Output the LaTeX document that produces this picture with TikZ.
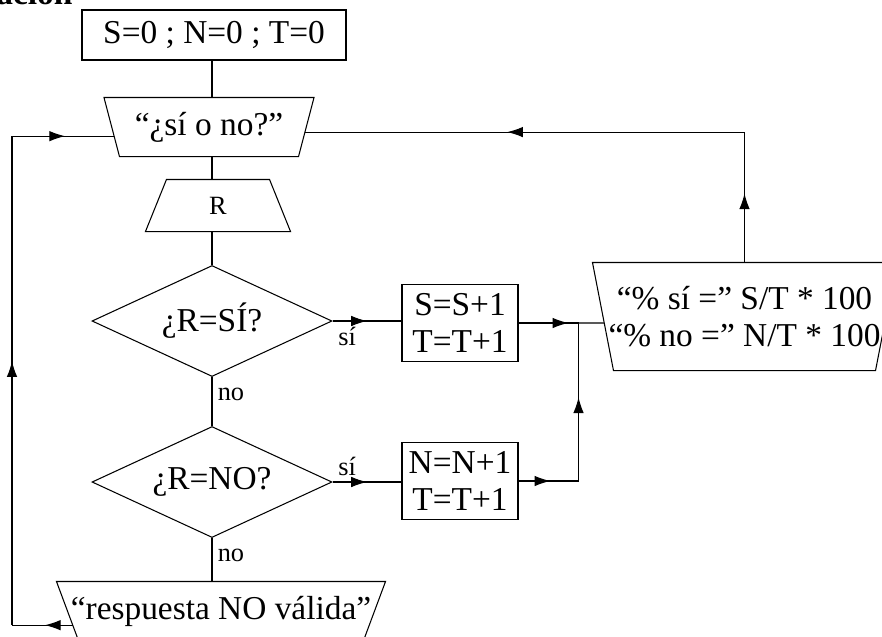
\documentclass[tikz,border=0pt]{standalone}
\usepackage{fontspec}
\setmainfont{Liberation Serif}
\usetikzlibrary{shapes.geometric,arrows.meta,decorations.markings,calc}

\tikzset{
  flecha/.style={postaction={decorate},
    decoration={markings, mark=at position #1 with {\arrow{Latex[length=9pt,width=6pt]}}}},
  proceso/.style={draw, rectangle, align=center, inner sep=0pt,
    minimum width=2.32cm, minimum height=1.54cm},
  decision/.style={draw, diamond, aspect=2.16, inner sep=0pt,
    minimum width=4.8cm, minimum height=2.22cm},
  caja/.style={rectangle, align=center, inner sep=0pt},
  etiq/.style={font=\fontsize{15}{17}\selectfont, inner sep=3pt}
}

% borde de salida (ancho arriba) y de entrada (ancho abajo)
\newcommand{\bordesalida}[2]{%
  \draw (#1.north west) -- (#1.north east) -- ([xshift=-#2]#1.south east)
    -- ([xshift=#2]#1.south west) -- cycle;}
\newcommand{\bordeentrada}[2]{%
  \draw ([xshift=#2]#1.north west) -- ([xshift=-#2]#1.north east)
    -- (#1.south east) -- (#1.south west) -- cycle;}

\begin{document}
\begin{tikzpicture}[line width=0.6pt, font=\fontsize{19}{20.8}\selectfont]
  \useasboundingbox (0,0) rectangle (17.64,-12.72);
  \node[anchor=base east, inner sep=0pt, font=\fontsize{19}{20.8}\selectfont\bfseries] (titulo) at (1.46,-0.09) {ación};

  % columna principal
  \node[proceso, minimum width=5.28cm, minimum height=1cm] (ini) at (4.28,-0.70) {S=0 ; N=0 ; T=0};
  \node[caja, minimum width=4.18cm, minimum height=1.16cm] (preg) at (4.18,-2.54) {``¿sí o no?''};
  \node[caja, minimum width=2.88cm, minimum height=1.02cm, font=\fontsize{15}{17}\selectfont] (resp) at (4.36,-4.11) {R};
  \node[decision] (si) at (4.24,-6.42) {¿R=SÍ?};
  \node[decision] (no) at (4.24,-9.64) {¿R=NO?};
  \node[caja, minimum width=6.56cm, minimum height=1.16cm] (error) at (4.42,-12.22) {``respuesta NO válida''};
  \bordesalida{preg}{0.31cm}
  \bordeentrada{resp}{0.42cm}
  \bordesalida{error}{0.44cm}

  % contadores y resultado
  \node[proceso] (suma) at (9.20,-6.46) {S=S+1\\T=T+1};
  \node[proceso] (resta) at (9.20,-9.62) {N=N+1\\T=T+1};
  \node[caja, minimum width=6.06cm, minimum height=2.14cm] (porc) at (14.89,-6.33)
    {``\% sí ='' S/T * 100\\``\% no ='' N/T * 100};
  \bordesalida{porc}{0.42cm}

  \draw (ini.south -| si.north) -- (preg.north -| si.north);
  \draw (preg.south -| si.north) -- (resp.north -| si.north);
  \draw (resp.south -| si.north) -- (si.north);
  \draw (si) -- node[etiq, right, pos=.35] {no} (no);
  \draw (no) -- node[etiq, right, pos=.4] {no} (no.south |- error.north);

  \draw[flecha=.5] (si.east) -- node[etiq, below right, pos=0] {sí} (si.east -| suma.west);
  \draw[flecha=.5] (no.east) -- node[etiq, above right, pos=0] {sí} (no.east -| resta.west);

  \coordinate (union) at ($(suma.east)+(1.2,0)$);
  \coordinate (codo) at (resta.east -| union);
  \coordinate (porcin) at ($(porc.north west)!.56!([xshift=0.42cm]porc.south west)$);
  \draw[flecha=.83] (suma.east) -- (union);
  \draw (union) -- (porcin);
  \draw[flecha=.53] (resta.east) -- (codo);
  \draw[flecha=.53] (codo) -- (union);

  % vuelta a la pregunta
  \coordinate (pregder) at ($(preg.north east)!.586!([xshift=-0.31cm]preg.south east)$);
  \coordinate (pregizq) at ($(preg.north west)!.655!([xshift=0.31cm]preg.south west)$);
  \coordinate (errizq) at ($(error.north west)!.74!([xshift=0.44cm]error.south west)$);
  \coordinate (vuelta) at (porc.north |- pregder);
  \draw[flecha=.53] (porc.north) -- (vuelta);
  \draw[flecha=.54] (vuelta) -- (pregder);

  \coordinate (abajo) at (0.24,0 |- errizq);
  \coordinate (arriba) at (0.24,0 |- pregizq);
  \draw[flecha=.46] (errizq) -- (abajo);
  \draw[flecha=.54] (abajo) -- (arriba);
  \draw[flecha=.52] (arriba) -- (pregizq);
\end{tikzpicture}
\end{document}
